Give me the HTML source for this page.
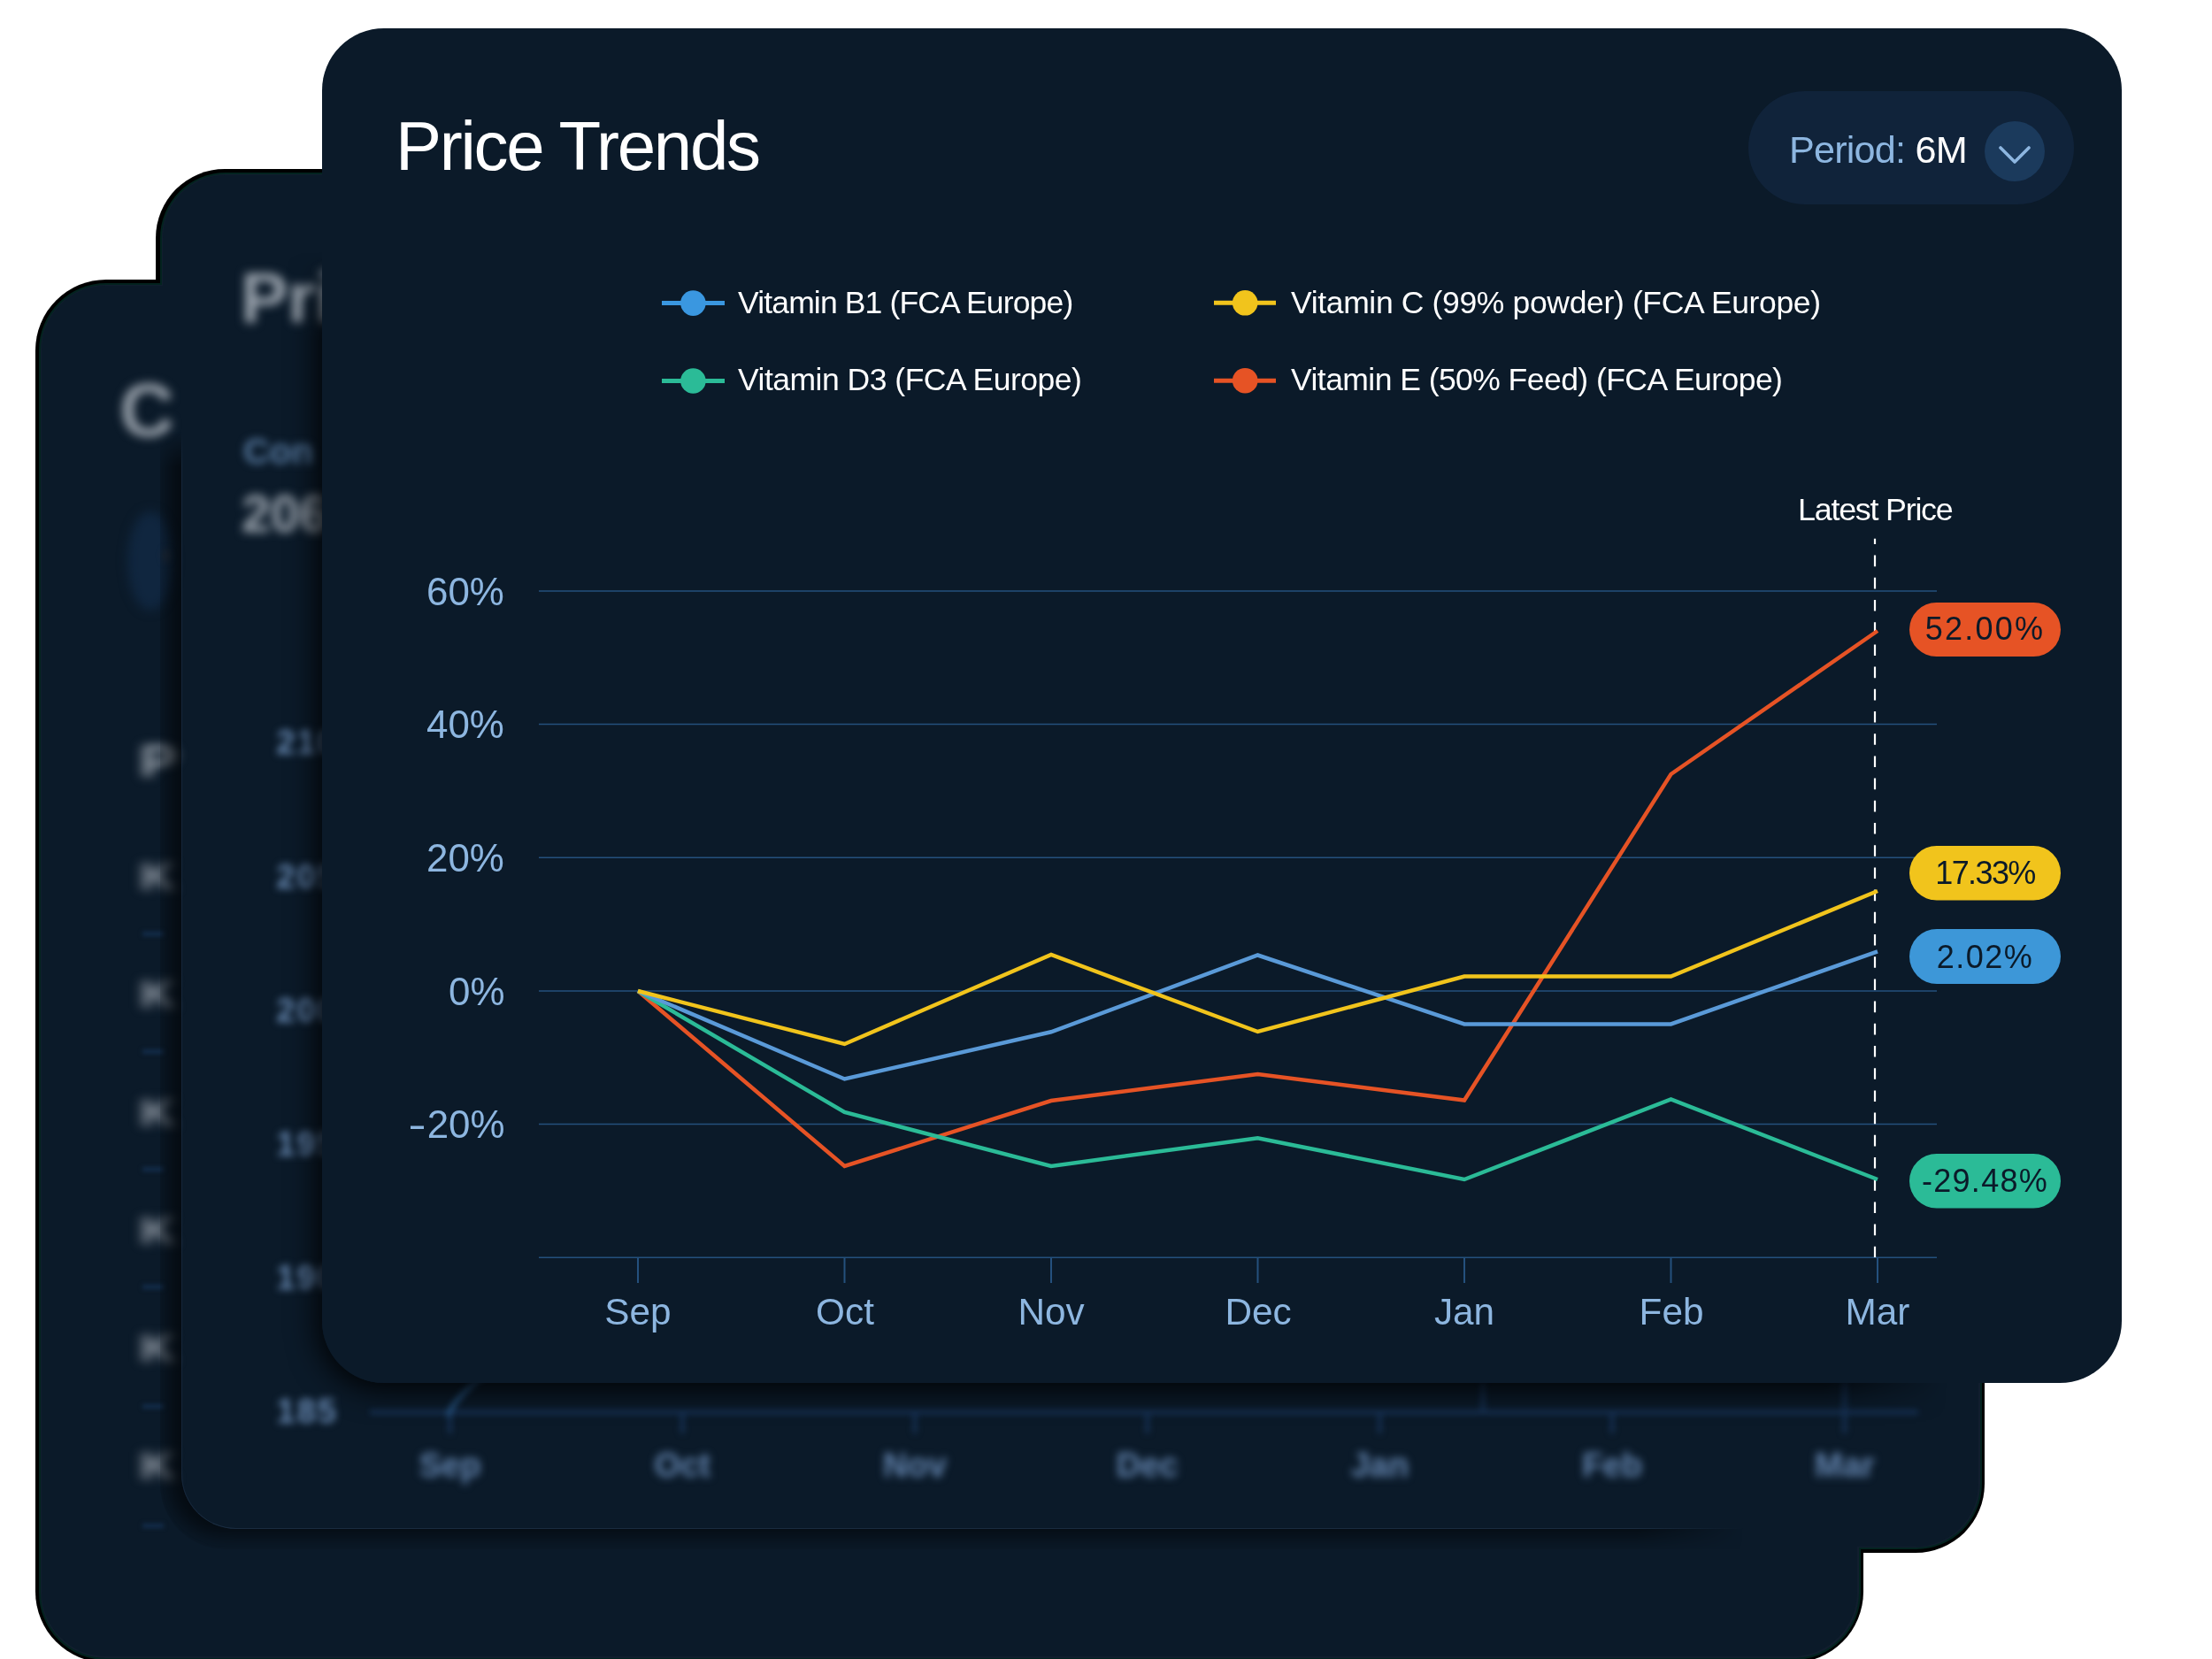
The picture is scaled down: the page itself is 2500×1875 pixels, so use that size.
<!DOCTYPE html>
<html><head><meta charset="utf-8"><style>
*{margin:0;padding:0;box-sizing:border-box}
html,body{width:2500px;height:1875px;overflow:hidden;background:#fff}
body{position:relative;font-family:"Liberation Sans",sans-serif}
.abs{position:absolute}
.t{position:absolute;white-space:nowrap;line-height:1;will-change:transform}
.lg{font-size:35.5px;color:#fff}
.bl{left:158px;font-size:45px;font-weight:bold;color:#88919c;filter:blur(5.5px);transform:scaleX(1.25);transform-origin:0 0}
.bdash{position:absolute;left:161px;width:24px;height:5px;background:#132d4c;filter:blur(2.5px)}
.myl{position:absolute;left:290px;width:92px;text-align:right;font-size:38px;font-weight:bold;line-height:1;color:#6687b0;letter-spacing:2px;filter:blur(4.5px)}
.mxl{position:absolute;top:1637px;width:100px;text-align:center;font-size:38px;font-weight:bold;line-height:1;color:#6384ae;filter:blur(5px)}
.yl{will-change:transform;position:absolute;right:1930px;font-size:43.9px;line-height:1;color:#8db6e0;white-space:nowrap}
.xl{will-change:transform;position:absolute;top:1462px;width:200px;text-align:center;font-size:42.3px;line-height:1;color:#8db6e0;white-space:nowrap}
.bd{will-change:transform;position:absolute;left:2158px;width:171px;text-align:center;font-size:36px;line-height:1;color:#0b1a29;letter-spacing:1px;white-space:nowrap}
</style></head><body>

<!-- back card union outline -->
<div class="abs" style="left:40px;top:316px;width:2066px;height:1563px;border-radius:80px;background:#000"></div>
<div class="abs" style="left:176px;top:191px;width:2067px;height:1564px;border-radius:78px;background:#000"></div>
<div class="abs" style="left:43.5px;top:319.5px;width:2059px;height:1556px;border-radius:76px;background:#03231f"></div>
<div class="abs" style="left:180.5px;top:194.8px;width:2059px;height:1556.4px;border-radius:74px;background:#03231f"></div>
<div class="abs" style="left:45.5px;top:321.5px;width:2055px;height:1552px;border-radius:74px;background:#111e2e"></div>
<div class="abs" style="left:182.5px;top:196.8px;width:2055px;height:1552.4px;border-radius:72px;background:#111e2e"></div>
<div class="abs" style="left:47px;top:323px;width:2052px;height:1549px;border-radius:73px;background:#0b1a29"></div>
<div class="abs" style="left:184px;top:198.3px;width:2052px;height:1549.4px;border-radius:71px;background:#0b1a29"></div>

<!-- back card content -->
<div class="abs" style="left:44px;top:321px;width:2058px;height:1554px;border-radius:76px;overflow:hidden">
  <div style="position:absolute;left:-44px;top:-321px;width:2500px;height:1875px">
    <div class="t" style="left:135px;top:420px;font-size:86px;font-weight:bold;color:#939ca6;filter:blur(5.5px)">C</div>
    <div class="abs" style="left:144px;top:578px;width:52px;height:112px;border-radius:50%;background:#10263f;filter:blur(6px)"></div>
    <div class="abs" style="left:183px;top:620px;width:10px;height:16px;border-radius:50%;background:#1c2a3a;filter:blur(3px)"></div>
    <div class="t bl" style="top:835px;font-size:51px;color:#98a1ab">P</div>
    <div class="t bl" style="top:968px">K</div>
    <div class="t bl" style="top:1101px">K</div>
    <div class="t bl" style="top:1235px">K</div>
    <div class="t bl" style="top:1368px">K</div>
    <div class="t bl" style="top:1501px">K</div>
    <div class="t bl" style="top:1634px">K</div>
    <div class="bdash" style="top:1053px"></div>
    <div class="bdash" style="top:1186px"></div>
    <div class="bdash" style="top:1319px"></div>
    <div class="bdash" style="top:1452px"></div>
    <div class="bdash" style="top:1587px"></div>
    <div class="bdash" style="top:1722px"></div>
  </div>
</div>

<!-- middle card content -->
<div class="abs" style="left:181px;top:195px;width:2058px;height:1556px;border-radius:74px;overflow:hidden">
  <div style="position:absolute;left:-181px;top:-195px;width:2500px;height:1875px">
    <!-- panel shadow + border -->
    <div class="abs" style="left:150px;top:488px;width:1900px;height:1302px;overflow:hidden;-webkit-mask-image:linear-gradient(to right,#000 0,#000 1700px,transparent 1820px),linear-gradient(to bottom,transparent 0,#000 40px);-webkit-mask-composite:source-in;mask-image:linear-gradient(to right,#000 0,#000 1700px,transparent 1820px),linear-gradient(to bottom,transparent 0,#000 40px);mask-composite:intersect">
      <div class="abs" style="left:55px;top:-40px;width:2100px;height:1280px;border-left:1.5px solid #16273b;border-bottom:1.5px solid #1a2c40;border-bottom-left-radius:62px;box-shadow:-16px 8px 24px rgba(0,0,0,.6);-webkit-mask-image:none"></div>
    </div>
    <div class="t" style="left:272px;top:297px;font-size:80px;font-weight:bold;color:#9aa3ad;filter:blur(5.5px)">Pri</div>
    <div class="t" style="left:275px;top:490px;font-size:41px;font-weight:bold;color:#57799f;filter:blur(5px)">Con</div>
    <div class="t" style="left:273px;top:552px;font-size:59px;font-weight:bold;color:#9da6b0;filter:blur(5.5px)">206</div>
    <div class="myl" style="top:820px">210</div>
    <div class="myl" style="top:972px">205</div>
    <div class="myl" style="top:1123px">200</div>
    <div class="myl" style="top:1274px">195</div>
    <div class="myl" style="top:1425px">190</div>
    <div class="myl" style="top:1576px">185</div>
    <svg class="abs" style="left:0;top:0;filter:blur(3.5px)" width="2500" height="1875">
      <line x1="418" y1="1596" x2="2168" y2="1596" stroke="#18345a" stroke-width="4.5"/>
      <g stroke="#18345a" stroke-width="4">
        <line x1="508.6" y1="1596" x2="508.6" y2="1620"/><line x1="771.3" y1="1596" x2="771.3" y2="1620"/>
        <line x1="1034" y1="1596" x2="1034" y2="1620"/><line x1="1296.7" y1="1596" x2="1296.7" y2="1620"/>
        <line x1="1559.4" y1="1596" x2="1559.4" y2="1620"/><line x1="1822.1" y1="1596" x2="1822.1" y2="1620"/>
        <line x1="2084.8" y1="1596" x2="2084.8" y2="1620"/>
        <line x1="1676" y1="1560" x2="1676" y2="1596"/><line x1="2084.8" y1="1560" x2="2084.8" y2="1596"/>
      </g>
      <path d="M506,1600 Q516,1575 560,1545" fill="none" stroke="#275685" stroke-width="5"/>
    </svg>
    <div class="mxl" style="left:458.6px">Sep</div>
    <div class="mxl" style="left:721.3px">Oct</div>
    <div class="mxl" style="left:984px">Nov</div>
    <div class="mxl" style="left:1246.7px">Dec</div>
    <div class="mxl" style="left:1509.4px">Jan</div>
    <div class="mxl" style="left:1772.1px">Feb</div>
    <div class="mxl" style="left:2034.8px">Mar</div>
    <!-- front card shadow -->
    <div class="abs" style="left:0;top:0;width:2500px;height:1875px;-webkit-mask-image:linear-gradient(to right,#000 0,#000 2060px,transparent 2200px),linear-gradient(to bottom,transparent 0,transparent 285px,#000 385px);-webkit-mask-composite:source-in;mask-image:linear-gradient(to right,#000 0,#000 2060px,transparent 2200px),linear-gradient(to bottom,transparent 0,transparent 285px,#000 385px);mask-composite:intersect">
      <div class="abs" style="left:364px;top:32px;width:2034px;height:1531px;border-radius:70px;box-shadow:-2px 5px 34px 3px rgba(0,0,0,.92)"></div>
    </div>
  </div>
</div>

<!-- front card -->
<div class="abs" id="front" style="left:364px;top:32px;width:2034px;height:1531px;border-radius:70px;background:#0b1a29"></div>

<svg class="abs" style="left:0;top:0" width="2500" height="1875" viewBox="0 0 2500 1875">
  <g stroke="#24507d" stroke-width="1.6">
    <line x1="609" y1="668" x2="2189" y2="668"/>
    <line x1="609" y1="818.5" x2="2189" y2="818.5"/>
    <line x1="609" y1="969.3" x2="2189" y2="969.3"/>
    <line x1="609" y1="1120" x2="2189" y2="1120"/>
    <line x1="609" y1="1270.5" x2="2189" y2="1270.5"/>
    <line x1="609" y1="1421.2" x2="2189" y2="1421.2"/>
  </g>
  <g stroke="#24507d" stroke-width="2">
    <line x1="721" y1="1421" x2="721" y2="1450"/>
    <line x1="954.5" y1="1421" x2="954.5" y2="1450"/>
    <line x1="1188" y1="1421" x2="1188" y2="1450"/>
    <line x1="1421.5" y1="1421" x2="1421.5" y2="1450"/>
    <line x1="1655" y1="1421" x2="1655" y2="1450"/>
    <line x1="1888.5" y1="1421" x2="1888.5" y2="1450"/>
    <line x1="2122" y1="1421" x2="2122" y2="1450"/>
  </g>
  <line x1="2119" y1="608.7" x2="2119" y2="1421" stroke="#fff" stroke-width="2.2" stroke-dasharray="12.6 12.6" stroke-dashoffset="6.3"/>
  <g fill="none" stroke-width="4.5" stroke-linejoin="miter">
    <polyline stroke="#e65325" points="721,1120 954.5,1318 1188,1244 1421.5,1214 1655,1243.5 1888.5,875 2122,713"/>
    <polyline stroke="#2bbb97" points="721,1120 954.5,1257 1188,1318 1421.5,1286.2 1655,1333 1888.5,1242.4 2122,1333"/>
    <polyline stroke="#5a9ad8" points="721,1120 954.5,1219.5 1188,1166.3 1421.5,1079.5 1655,1157.4 1888.5,1157.4 2122,1075.4"/>
    <polyline stroke="#f1c41c" points="721,1120 954.5,1180 1188,1079 1421.5,1166 1655,1103.5 1888.5,1103.5 2122,1007"/>
  </g>
  <!-- legend -->
  <g stroke-width="5">
    <line x1="748" y1="342.6" x2="819" y2="342.6" stroke="#3a97e0"/>
    <circle cx="783.4" cy="342.6" r="14.3" fill="#3a97e0" stroke="none"/>
    <line x1="748" y1="430.5" x2="819" y2="430.5" stroke="#2bbb97"/>
    <circle cx="783.4" cy="430.5" r="14.3" fill="#2bbb97" stroke="none"/>
    <line x1="1372" y1="342.3" x2="1442" y2="342.3" stroke="#f1c41c"/>
    <circle cx="1407.2" cy="342.3" r="14.3" fill="#f1c41c" stroke="none"/>
    <line x1="1372" y1="430.2" x2="1442" y2="430.2" stroke="#e65325"/>
    <circle cx="1407.2" cy="430.2" r="14.3" fill="#e65325" stroke="none"/>
  </g>
  <!-- period pill -->
  <rect x="1976" y="103" width="368" height="128" rx="64" fill="#10233a"/>
  <circle cx="2277" cy="171" r="34" fill="#1b3a5c"/>
  <polyline points="2261,167 2277,183 2293,167" fill="none" stroke="#8db6e0" stroke-width="3.6" stroke-linecap="round" stroke-linejoin="round"/>
  <!-- badges -->
  <rect x="2158" y="681" width="171" height="61" rx="30.5" fill="#e65325"/>
  <rect x="2158" y="956" width="171" height="61.5" rx="30.75" fill="#f1c41c"/>
  <rect x="2158" y="1050" width="171" height="62" rx="31" fill="#3d97d8"/>
  <rect x="2158" y="1304" width="171" height="61.5" rx="30.75" fill="#2bbb97"/>
</svg>

<!-- texts -->
<div class="t" id="title" style="left:447px;top:126px;font-size:78px;letter-spacing:-2.25px;color:#fff">Price Trends</div>
<div class="t" id="period" style="left:2022px;top:148px;font-size:43.2px;letter-spacing:-0.8px;color:#8db6e0">Period: <span style="color:#fff">6M</span></div>

<div class="t lg" style="left:834px;top:325px;letter-spacing:-0.85px">Vitamin B1 (FCA Europe)</div>
<div class="t lg" style="left:834px;top:412px;letter-spacing:-0.5px">Vitamin D3 (FCA Europe)</div>
<div class="t lg" style="left:1459px;top:325px;letter-spacing:-0.35px">Vitamin C (99% powder) (FCA Europe)</div>
<div class="t lg" style="left:1459px;top:412px;letter-spacing:-0.55px">Vitamin E (50% Feed) (FCA Europe)</div>

<div class="t" id="latest" style="left:2032px;top:559px;font-size:35.9px;letter-spacing:-1.25px;color:#fff">Latest Price</div>

<div class="yl" style="top:646.5px">60%</div>
<div class="yl" style="top:797px">40%</div>
<div class="yl" style="top:947.8px">20%</div>
<div class="yl" style="top:1098.5px">0%</div>
<div class="yl" style="top:1249px"><span style="display:inline-block;transform:scaleX(1.4);transform-origin:right;margin-right:1px">-</span>20%</div>

<div class="xl" style="left:621px">Sep</div>
<div class="xl" style="left:854.5px">Oct</div>
<div class="xl" style="left:1088px">Nov</div>
<div class="xl" style="left:1321.5px">Dec</div>
<div class="xl" style="left:1555px">Jan</div>
<div class="xl" style="left:1788.5px">Feb</div>
<div class="xl" style="left:2022px">Mar</div>

<div class="bd" style="top:693.4px;letter-spacing:2.2px">52.00%</div>
<div class="bd" style="top:968.9px;letter-spacing:-1.6px">17.33%</div>
<div class="bd" style="top:1063.6px;letter-spacing:1.5px">2.02%</div>
<div class="bd" style="top:1316.7px;letter-spacing:1.3px">-29.48%</div>

</body></html>
